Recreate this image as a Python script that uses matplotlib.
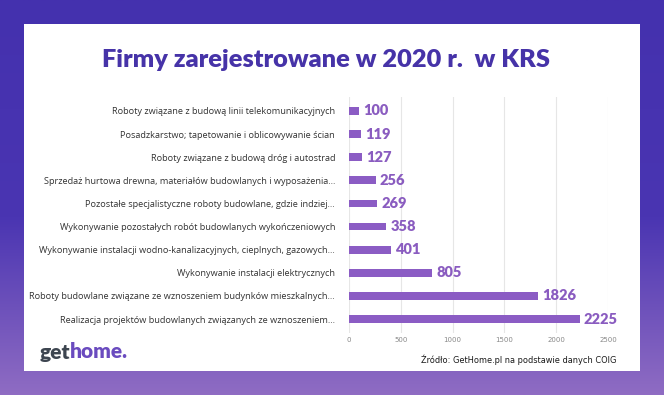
import numpy as np
import matplotlib.pyplot as plt
from matplotlib.colors import LinearSegmentedColormap
from matplotlib.patches import Rectangle

# data (top to bottom as shown)
categories = [
    "Roboty związane z budową linii telekomunikacyjnych",
    "Posadzkarstwo; tapetowanie i oblicowywanie ścian",
    "Roboty związane z budową dróg i autostrad",
    "Sprzedaż hurtowa drewna, materiałów budowlanych i wyposażenia...",
    "Pozostałe specjalistyczne roboty budowlane, gdzie indziej...",
    "Wykonywanie pozostałych robót budowlanych wykończeniowych",
    "Wykonywanie instalacji wodno-kanalizacyjnych, cieplnych, gazowych...",
    "Wykonywanie instalacji elektrycznych",
    "Roboty budowlane związane ze wznoszeniem budynków mieszkalnych...",
    "Realizacja projektów budowlanych związanych ze wznoszeniem...",
]
counts = [100, 119, 127, 256, 269, 358, 401, 805, 1826, 2225]
xticks = [0, 500, 1000, 1500, 2000, 2500]

title = "Firmy zarejestrowane w 2020 r.  w KRS"
source = "Źródło: GetHome.pl na podstawie danych COIG"

W, H = 664, 395
fig = plt.figure(figsize=(W / 100, H / 100), dpi=100)

# gradient background
bg = fig.add_axes([0, 0, 1, 1])
cmap = LinearSegmentedColormap.from_list(
    "bg", [(0, "#4431ae"), (0.55, "#4a35b2"), (1, "#8f6cc3")])
grad = np.linspace(0, 1, 256).reshape(-1, 1)
bg.imshow(grad, aspect="auto", cmap=cmap, extent=[0, 1, 0, 1], origin="upper")
bg.add_patch(Rectangle((24 / W, 1 - 371 / H), (640 - 24) / W, (371 - 24) / H,
                       facecolor="white", edgecolor="none"))
bg.set_xlim(0, 1)
bg.set_ylim(0, 1)
bg.axis("off")

fig.text(326 / W, 1 - 60 / H, title, ha="center", va="center",
         fontsize=18.3, fontweight="heavy", color="#4633a8", family="Lato")

ax = fig.add_axes([349 / W, 1 - 333 / H, (608 - 349) / W, (333 - 97) / H])
y = np.arange(len(categories))
ax.barh(y, counts, height=0.33, color="#8b5cc4", zorder=3)
for yi, v in zip(y, counts):
    ax.text(v + 40, yi, str(v), va="center", ha="left", fontsize=10.5,
            fontweight="heavy", color="#8a5cc0", family="Lato")

ax.set_xlim(0, 2500)
ax.set_ylim(len(categories) - 0.4, -0.6)
ax.set_xticks(xticks)
ax.set_xticklabels([str(t) for t in xticks], fontsize=5, color="#888888")
ax.set_yticks(y)
ax.set_yticklabels(categories, fontsize=6.6, color="#333333", family="Open Sans")
ax.tick_params(axis="both", length=0)
ax.tick_params(axis="y", pad=10)
ax.tick_params(axis="x", pad=3)
ax.grid(axis="x", color="#e6e6e6", linewidth=0.8, zorder=0)
for s in ax.spines.values():
    s.set_visible(False)
ax.set_facecolor("none")

# logo
renderer = fig.canvas.get_renderer()
t_get = fig.text(40 / W, 1 - 352 / H, "get", ha="left", va="center", fontsize=15,
                 fontweight="heavy", color="#3d4550", family="Lato")
bb = t_get.get_window_extent(renderer)
fig.text((bb.x1 - 1) / W, 1 - 352 / H, "home.", ha="left", va="center", fontsize=15,
         fontweight="heavy", color="#6a4bbf", family="Lato")

fig.text(616 / W, 1 - 360 / H, source, ha="right", va="center", fontsize=6.6,
         color="#1a1a1a", family="DejaVu Sans", fontstretch="condensed")

fig.savefig("out.png", dpi=100)
